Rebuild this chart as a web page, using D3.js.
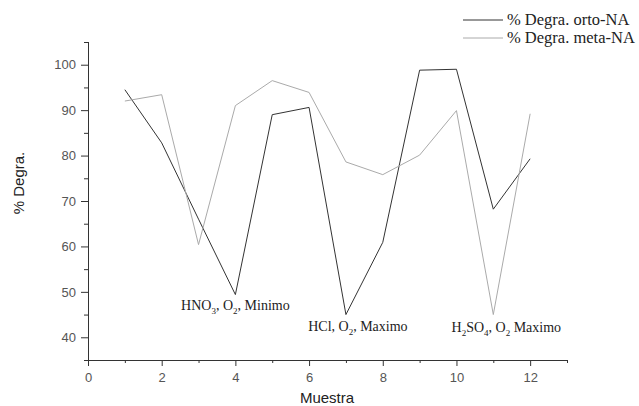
<!DOCTYPE html>
<html><head><meta charset="utf-8">
<script src="https://cdn.jsdelivr.net/npm/d3@7"></script>
<style>body{margin:0;background:#fff}svg{display:block}</style>
</head><body>
<svg id="c" width="639" height="406"></svg>
<script>
const muestra = [1,2,3,4,5,6,7,8,9,10,11,12];
const orto = [94.5,82.8,66,49.4,89.0,90.6,45.0,60.9,98.8,99.0,68.2,79.3];
const meta = [92.0,93.4,60.4,91.0,96.5,93.9,78.6,75.8,80.1,89.9,45.0,89.2];
const xMajor = [0,2,4,6,8,10,12];
const xMinor = [1,3,5,7,9,11,13];
const yMajor = [40,50,60,70,80,90,100];
const yMinor = [35,45,55,65,75,85,95,105];
const seriesNames = ["% Degra. orto-NA","% Degra. meta-NA"];
const notes = [
  {x:4, parts:[["HNO",0],["3",1],[", O",0],["2",1],[", Minimo",0]], dx:0, yb:310},
  {x:7, parts:[["HCl, O",0],["2",1],[", Maximo",0]], dx:12, yb:331},
  {x:11, parts:[["H",0],["2",1],["SO",0],["4",1],[", O",0],["2",1],[" Maximo",0]], dx:13, yb:332}
];

const svg = d3.select("#c");
const x = d3.scaleLinear().domain([0,13]).range([88,567]);
const y = d3.scaleLinear().domain([35,105]).range([360,42]);
const axisCol = "#333";
const tickFont = "Liberation Sans, Arial, sans-serif";

// X axis
const gx = svg.append("g").attr("transform","translate(0,360)");
gx.call(d3.axisBottom(x).tickValues(xMajor).tickSize(6).tickFormat(d3.format("d")));
gx.append("g").call(d3.axisBottom(x).tickValues(xMinor).tickSize(3).tickFormat(""));
gx.selectAll(".domain").attr("stroke",axisCol).attr("d","M84,0.5H567");
gx.selectAll(".tick line").attr("stroke",axisCol);
gx.selectAll(".tick text").attr("fill","#555").attr("font-family",tickFont).attr("font-size",13).attr("dy","0.98em");

// Y axis
const gy = svg.append("g").attr("transform","translate(88,0)");
gy.call(d3.axisLeft(y).tickValues(yMajor).tickSize(7).tickFormat(d3.format("d")));
gy.append("g").call(d3.axisLeft(y).tickValues(yMinor).tickSize(4).tickFormat(""));
gy.selectAll(".domain").attr("stroke",axisCol).attr("d","M0.5,42V362");
gy.selectAll(".tick line").attr("stroke",axisCol);
gy.selectAll(".tick text").attr("fill","#555").attr("font-family",tickFont).attr("font-size",13).attr("x",-12);

// Axis titles
svg.append("text").attr("x",327).attr("y",403).attr("text-anchor","middle")
  .attr("font-family",tickFont).attr("font-size",15).attr("fill","#222").text("Muestra");
svg.append("text").attr("transform","translate(24,183) rotate(-90)").attr("text-anchor","middle")
  .attr("font-family",tickFont).attr("font-size",15).attr("fill","#222").text("% Degra.");

// Lines
const line = d3.line().x((d,i)=>x(muestra[i])).y(d=>y(d));
const colors = ["#333","#aaa"];
[orto, meta].forEach((s,k)=>{
  svg.append("path").datum(s).attr("d",line).attr("fill","none")
    .attr("stroke",colors[k]).attr("stroke-width",1);
});

// Legend
const serif = "Liberation Serif, Times New Roman, serif";
seriesNames.forEach((n,k)=>{
  const yy = 20 + k*18;
  svg.append("line").attr("x1",463).attr("x2",503).attr("y1",yy).attr("y2",yy)
    .attr("stroke",colors[k]).attr("stroke-width",1);
  svg.append("text").attr("x",507).attr("y",yy+5).attr("font-family",serif)
    .attr("font-size",16.5).attr("fill","#222").text(n);
});

// Annotations
notes.forEach(nt=>{
  const t = svg.append("text").attr("x",x(nt.x)+nt.dx).attr("y",nt.yb)
    .attr("text-anchor","middle").attr("font-family",serif).attr("font-size",14).attr("fill","#222");
  let prevSub = false;
  nt.parts.forEach(p=>{
    const isSub = p[1];
    const ts = t.append("tspan").text(p[0]);
    if(isSub) ts.attr("font-size",9);
    ts.attr("dy", isSub && !prevSub ? 4 : (!isSub && prevSub ? -4 : 0));
    prevSub = isSub;
  });
});
</script>
</body></html>
